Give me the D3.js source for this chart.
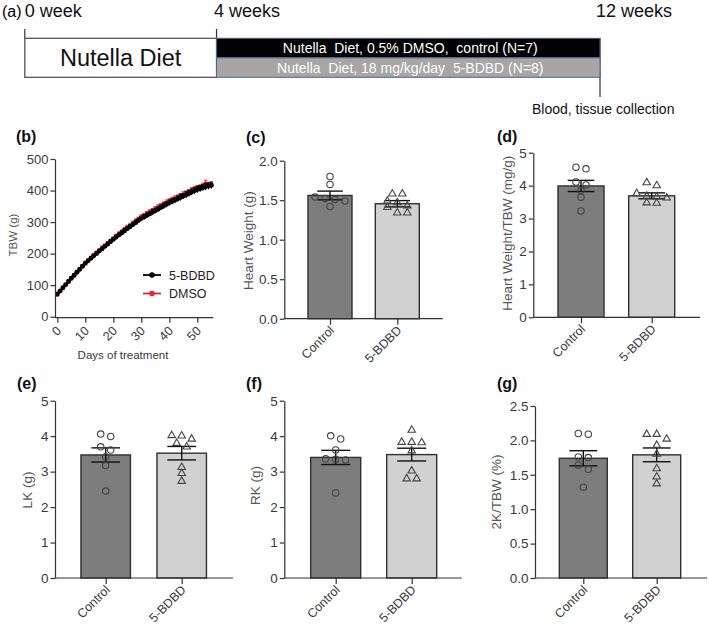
<!DOCTYPE html>
<html>
<head>
<meta charset="utf-8">
<script src="https://cdn.jsdelivr.net/npm/d3@7"></script>
<style>
  body { margin: 0; background: #fff; }
  svg { display: block; font-family: "Liberation Sans", Arial, sans-serif; }
</style>
</head>
<body>
<div id="chart"></div>
<script>
// ── Timeline (a) ─────────────────────────────────────────────────────────
const weekMarks = [0, 4, 12];
const weekLabels = ["0 week", "4 weeks", "12 weeks"];
const dietLabel = "Nutella Diet";
const armLabels = [
  "Nutella  Diet, 0.5% DMSO,  control (N=7)",
  "Nutella  Diet, 18 mg/kg/day  5-BDBD (N=8)"
];
const collectLabel = "Blood, tissue collection";

// ── Body weight (b) ──────────────────────────────────────────────────────
const seriesNames = ["5-BDBD", "DMSO"];
const tbwBDBD = [72, 82, 92, 102, 112, 122, 131, 141, 150, 160, 169, 177, 185, 193, 200,
  208, 215, 223, 230, 238, 245, 252, 259, 265, 272, 279, 285, 292, 298, 305,
  311, 316, 321, 326, 331, 336, 341, 346, 351, 356, 361, 365, 369, 374, 378,
  382, 386, 391, 395, 399, 403, 406, 409, 412, 414, 417];
const tbwDMSO = [70, 81, 91, 101, 111, 121, 131, 141, 151, 160, 170, 178, 186, 194, 202,
  209, 217, 224, 232, 239, 247, 254, 261, 268, 275, 282, 288, 295, 301, 308,
  314, 320, 325, 330, 335, 340, 345, 350, 355, 360, 365, 369, 373, 377, 381,
  385, 389, 393, 398, 402, 405, 408, 412, 421, 415, 416];
const semBDBD = [2, 3, 3, 3, 4, 3, 4, 4, 4, 5, 4, 5, 5, 5, 5, 6, 5, 6, 6, 6, 6, 7, 6, 7, 7, 7, 7, 7,
  8, 7, 8, 8, 8, 8, 8, 8, 9, 8, 9, 9, 9, 9, 9, 9, 10, 9, 10, 10, 10, 10, 10, 10, 10, 11, 10, 10];
const semDMSO = [3, 3, 4, 4, 3, 4, 5, 4, 5, 5, 6, 5, 6, 6, 5, 6, 7, 6, 7, 7, 6, 7, 8, 7, 8, 8, 7, 8,
  9, 8, 9, 8, 9, 9, 8, 9, 10, 9, 9, 10, 9, 10, 10, 9, 10, 11, 10, 10, 11, 10, 11, 10, 11, 12, 11, 10];
const dayTicks = [0, 10, 20, 30, 40, 50];
const tbwTicks = [0, 100, 200, 300, 400, 500];

// ── Organ weights (c–g) ──────────────────────────────────────────────────
const groups = ["Control", "5-BDBD"];

const heartCtrl = [1.80, 1.70, 1.54, 1.52, 1.51, 1.49, 1.42];
const heartBDBD = [1.58, 1.58, 1.49, 1.47, 1.43, 1.41, 1.34, 1.34];
const heartMean = [1.56, 1.455];
const heartSem = [0.055, 0.04];

const hwTbwCtrl = [4.56, 4.51, 4.11, 4.02, 3.85, 3.65, 3.23];
const hwTbwBDBD = [4.09, 4.00, 3.76, 3.68, 3.66, 3.63, 3.48, 3.47];
const hwTbwMean = [3.99, 3.69];
const hwTbwSem = [0.17, 0.09];

const lkCtrl = [4.06, 3.99, 3.70, 3.61, 3.42, 3.17, 2.45];
const lkBDBD = [4.02, 4.01, 3.92, 3.80, 3.70, 3.12, 2.95, 2.73];
const lkMean = [3.47, 3.52];
const lkSem = [0.20, 0.19];

const rkCtrl = [4.01, 3.92, 3.61, 3.36, 3.35, 3.33, 2.40];
const rkBDBD = [4.17, 3.83, 3.83, 3.82, 3.59, 3.02, 2.80, 2.80];
const rkMean = [3.40, 3.48];
const rkSem = [0.20, 0.18];

const kTbwCtrl = [2.10, 2.09, 1.76, 1.75, 1.64, 1.58, 1.32];
const kTbwBDBD = [2.09, 2.09, 2.02, 1.93, 1.80, 1.59, 1.47, 1.37];
const kTbwMean = [1.74, 1.79];
const kTbwSem = [0.11, 0.10];

// ── Lienzo ───────────────────────────────────────────────────────────────
const width = 709, height = 632;
const ink = "#333";
const svg = d3.select("#chart").append("svg")
  .attr("width", width).attr("height", height)
  .attr("viewBox", [0, 0, width, height]);

// ── (a) timeline ─────────────────────────────────────────────────────────
const xW = d3.scaleLinear().domain([0, 12]).range([24.8, 600]);
const gA = svg.append("g");
gA.append("text").attr("x", 2).attr("y", 17).attr("font-size", 16).text("(a)");

gA.selectAll("text.week").data(weekMarks).join("text")
  .attr("class", "week")
  .attr("x", (d, i) => xW(d) - (i === 0 ? 0 : i === 1 ? 2.5 : 4))
  .attr("y", 17).attr("font-size", 18).attr("fill", "#111")
  .text((d, i) => weekLabels[i]);

gA.selectAll("line.tick").data(weekMarks.slice(0, 2)).join("line")
  .attr("x1", d => xW(d)).attr("x2", d => xW(d))
  .attr("y1", 29).attr("y2", 38.3)
  .attr("stroke", ink).attr("stroke-width", 1.2);
gA.append("line")
  .attr("x1", xW(12)).attr("x2", xW(12)).attr("y1", 38.3).attr("y2", 97)
  .attr("stroke", ink).attr("stroke-width", 1.2);

gA.append("rect")
  .attr("x", xW(0)).attr("y", 38.3).attr("width", xW(4) - xW(0)).attr("height", 39)
  .attr("fill", "#fff").attr("stroke", "#555").attr("stroke-width", 1.3);
gA.append("text").attr("x", (xW(0) + xW(4)) / 2).attr("y", 66)
  .attr("text-anchor", "middle").attr("font-size", 23.5).attr("fill", "#111").text(dietLabel);

const armFill = ["#000", "#a9a5a5"];
gA.selectAll("rect.arm").data(armLabels).join("rect")
  .attr("class", "arm")
  .attr("x", xW(4)).attr("width", xW(12) - xW(4))
  .attr("y", (d, i) => 38.3 + i * 19.5).attr("height", 19.5)
  .attr("fill", (d, i) => armFill[i])
  .attr("stroke", "#4d6790").attr("stroke-width", 1);
gA.selectAll("text.arm").data(armLabels).join("text")
  .attr("class", "arm")
  .attr("x", (xW(4) + xW(12)) / 2 + 2).attr("y", (d, i) => 53 + i * 19.5)
  .attr("text-anchor", "middle").attr("font-size", 14)
  .attr("fill", "#fff").attr("xml:space", "preserve")
  .text(d => d);

gA.append("text").attr("x", 532).attr("y", 114).attr("font-size", 14)
  .attr("fill", "#111").text(collectLabel);

// ── Utilidades ───────────────────────────────────────────────────────────
function panelLabel(txt, x, y) {
  svg.append("text").attr("x", x).attr("y", y)
    .attr("font-size", 16).attr("font-weight", "bold").attr("fill", "#111").text(txt);
}

function yTitle(txt, x, y, size) {
  svg.append("text")
    .attr("transform", `translate(${x},${y}) rotate(-90)`)
    .attr("text-anchor", "middle").attr("dy", "0.35em")
    .attr("font-size", size).attr("fill", "#555").text(txt);
}

function styleAxis(g, size) {
  g.selectAll("line").attr("stroke", ink).attr("stroke-width", 1.2);
  g.selectAll("path").attr("stroke", ink).attr("stroke-width", 1.2);
  g.selectAll("text").attr("fill", "#3a3a3a").attr("font-size", size)
    .attr("font-family", '"Liberation Sans", Arial, sans-serif');
}

// ── (b) body weight curve ────────────────────────────────────────────────
panelLabel("(b)", 16, 142);
const xB = d3.scaleLinear().domain([0, 50]).range([57.3, 197.3]);
const yB = d3.scaleLinear().domain([0, 500]).range([316.7, 159]);
const days = d3.range(tbwBDBD.length);

const gB = svg.append("g");
const curves = [
  { name: "DMSO", vals: tbwDMSO, sem: semDMSO, color: "#e8262a" },
  { name: "5-BDBD", vals: tbwBDBD, sem: semBDBD, color: "#000" }
];
const lineB = d3.line().x((d, i) => xB(i)).y(d => yB(d));
curves.forEach(c => {
  const gc = gB.append("g");
  gc.selectAll("line.err").data(days).join("line")
    .attr("x1", d => xB(d)).attr("x2", d => xB(d))
    .attr("y1", d => yB(c.vals[d] - c.sem[d])).attr("y2", d => yB(c.vals[d] + c.sem[d]))
    .attr("stroke", c.color).attr("stroke-width", 1);
  gc.selectAll("line.cap").data(days).join("line")
    .attr("x1", d => xB(d) - 1.8).attr("x2", d => xB(d) + 1.8)
    .attr("y1", d => yB(c.vals[d] + c.sem[d])).attr("y2", d => yB(c.vals[d] + c.sem[d]))
    .attr("stroke", c.color).attr("stroke-width", 1);
  gc.append("path").datum(c.vals).attr("d", lineB)
    .attr("fill", "none").attr("stroke", c.color).attr("stroke-width", 1.6);
  gc.selectAll("circle").data(days).join("circle")
    .attr("cx", d => xB(d)).attr("cy", d => yB(c.vals[d])).attr("r", 2.4)
    .attr("fill", c.color);
});

const axYB = svg.append("g").attr("transform", "translate(55,0)")
  .call(d3.axisLeft(yB).tickValues(tbwTicks).tickSize(4.5).tickSizeOuter(0).tickPadding(2));
styleAxis(axYB, 13);
const axXB = svg.append("g").attr("transform", `translate(0,${yB(0) + 1})`)
  .call(d3.axisBottom(xB).tickValues(dayTicks).tickSize(5).tickSizeOuter(0));
axXB.select(".domain").remove();
axXB.append("line").attr("x1", 55).attr("x2", xB(55.7)).attr("y1", 0).attr("y2", 0);
styleAxis(axXB, 12.5);
axXB.selectAll(".tick text")
  .attr("x", 4).attr("y", 14).attr("dy", null)
  .attr("text-anchor", "end").attr("transform", "rotate(-45,4,14)");
yTitle("TBW (g)", 13.3, 235, 11.5);
svg.append("text").attr("x", 123).attr("y", 359).attr("text-anchor", "middle")
  .attr("font-size", 11.5).attr("fill", "#3a3a3a").text("Days of treatment");

// legend
const legB = svg.append("g");
const legendColor = { "5-BDBD": "#000", "DMSO": "#e8262a" };
seriesNames.forEach((n, i) => {
  const yy = 275 + i * 18.5;
  legB.append("line").attr("x1", 143).attr("x2", 161).attr("y1", yy).attr("y2", yy)
    .attr("stroke", legendColor[n]).attr("stroke-width", 1.8);
  legB.append("circle").attr("cx", 152).attr("cy", yy).attr("r", 2.8).attr("fill", legendColor[n]);
  legB.append("text").attr("x", 169).attr("y", yy).attr("dy", "0.36em")
    .attr("font-size", 12.5).attr("fill", "#222").text(n);
});

// ── Bar + scatter panels ─────────────────────────────────────────────────
const barFill = ["#7d7d7d", "#d1d1d1"];

function swarm(vals, y, step, thr) {
  const idx = vals.map((v, i) => i).sort((a, b) => vals[b] - vals[a]);
  const offs = new Array(vals.length).fill(0);
  let row = [];
  const flush = () => {
    row.forEach((k, j) => { offs[k] = (j - (row.length - 1) / 2) * step; });
    row = [];
  };
  idx.forEach(k => {
    if (row.length && Math.abs(y(vals[row[0]]) - y(vals[k])) > thr) flush();
    row.push(k);
  });
  flush();
  return offs;
}

function barPanel(p) {
  panelLabel(p.label, p.labelX, p.labelY);
  const y = d3.scaleLinear().domain([0, p.yMax]).range([p.y0, p.y1]);
  const x = d3.scalePoint().domain(groups).range(p.centers);
  const g = svg.append("g");

  g.selectAll("rect").data(groups).join("rect")
    .attr("x", d => x(d) - p.barW / 2).attr("width", p.barW)
    .attr("y", (d, i) => y(p.mean[i])).attr("height", (d, i) => y(0) - y(p.mean[i]))
    .attr("fill", (d, i) => barFill[i]).attr("stroke", "#303030").attr("stroke-width", 1.4);

  // error bars (mean ± SEM)
  const capW = p.barW * 0.58;
  groups.forEach((gr, i) => {
    const cx = x(gr), lo = y(p.mean[i] - p.sem[i]), hi = y(p.mean[i] + p.sem[i]);
    g.append("line").attr("x1", cx).attr("x2", cx).attr("y1", lo).attr("y2", hi)
      .attr("stroke", "#111").attr("stroke-width", 1.4);
    [lo, hi].forEach(yy => g.append("line")
      .attr("x1", cx - capW / 2).attr("x2", cx + capW / 2).attr("y1", yy).attr("y2", yy)
      .attr("stroke", "#111").attr("stroke-width", 1.4));
  });

  // individual points
  const offC = swarm(p.ctrl, y, 10, 6);
  g.selectAll("circle").data(p.ctrl).join("circle")
    .attr("cx", (d, i) => x("Control") + offC[i]).attr("cy", d => y(d)).attr("r", 3.2)
    .attr("fill", "none").attr("stroke", "#444").attr("stroke-width", 1.1);
  const offT = swarm(p.bdbd, y, 10, 6);
  const tri = d3.symbol(d3.symbolTriangle, 24);
  g.selectAll("path.tri").data(p.bdbd).join("path")
    .attr("class", "tri").attr("d", tri)
    .attr("transform", (d, i) => `translate(${x("5-BDBD") + offT[i]},${y(d)})`)
    .attr("fill", "none").attr("stroke", "#444").attr("stroke-width", 1.1);

  const axY = svg.append("g").attr("transform", `translate(${p.axisX},0)`)
    .call(d3.axisLeft(y).tickValues(p.ticks).tickFormat(d3.format(p.fmt))
      .tickSize(4.5).tickSizeOuter(0).tickPadding(2));
  styleAxis(axY, 13.5);

  const axX = svg.append("g").attr("transform", `translate(0,${y(0)})`)
    .call(d3.axisBottom(x).tickSize(6).tickSizeOuter(0));
  axX.select(".domain").remove();
  axX.append("line").attr("x1", p.axisX).attr("x2", p.axisEnd).attr("y1", 0).attr("y2", 0);
  styleAxis(axX, 12.5);
  axX.selectAll(".tick text")
    .attr("x", 4.5).attr("y", 12.5).attr("dy", null)
    .attr("text-anchor", "end").attr("transform", "rotate(-45,4.5,12.5)");

  yTitle(p.title, p.titleX, p.titleY, 13.5);
}

barPanel({ label: "(c)", labelX: 246, labelY: 143, title: "Heart Weight (g)", titleX: 248.7, titleY: 240.7,
  yMax: 2, ticks: [0, 0.5, 1, 1.5, 2], fmt: ".1f", y0: 318.7, y1: 160.7,
  axisX: 284.3, axisEnd: 442.7, centers: [330, 397.3], barW: 44,
  ctrl: heartCtrl, bdbd: heartBDBD, mean: heartMean, sem: heartSem });

barPanel({ label: "(d)", labelX: 497, labelY: 142, title: "Heart Weight/TBW (mg/g)", titleX: 507.5, titleY: 233.3,
  yMax: 5, ticks: [0, 1, 2, 3, 4, 5], fmt: "d", y0: 317.3, y1: 152.7,
  axisX: 533.3, axisEnd: 700, centers: [581, 651.7], barW: 46,
  ctrl: hwTbwCtrl, bdbd: hwTbwBDBD, mean: hwTbwMean, sem: hwTbwSem });

barPanel({ label: "(e)", labelX: 17, labelY: 389, title: "LK (g)", titleX: 27, titleY: 490,
  yMax: 5, ticks: [0, 1, 2, 3, 4, 5], fmt: "d", y0: 578, y1: 400.7,
  axisX: 55, axisEnd: 233, centers: [105.7, 181.7], barW: 49.5,
  ctrl: lkCtrl, bdbd: lkBDBD, mean: lkMean, sem: lkSem });

barPanel({ label: "(f)", labelX: 246, labelY: 389, title: "RK (g)", titleX: 255.3, titleY: 485.5,
  yMax: 5, ticks: [0, 1, 2, 3, 4, 5], fmt: "d", y0: 578, y1: 400.7,
  axisX: 284.3, axisEnd: 461.7, centers: [335.7, 411.7], barW: 50,
  ctrl: rkCtrl, bdbd: rkBDBD, mean: rkMean, sem: rkSem });

barPanel({ label: "(g)", labelX: 497, labelY: 389, title: "2K/TBW (%)", titleX: 496, titleY: 492,
  yMax: 2.5, ticks: [0, 0.5, 1, 1.5, 2, 2.5], fmt: ".1f", y0: 578, y1: 406,
  axisX: 535, axisEnd: 707, centers: [583.3, 656.7], barW: 48,
  ctrl: kTbwCtrl, bdbd: kTbwBDBD, mean: kTbwMean, sem: kTbwSem });
</script>
</body>
</html>
